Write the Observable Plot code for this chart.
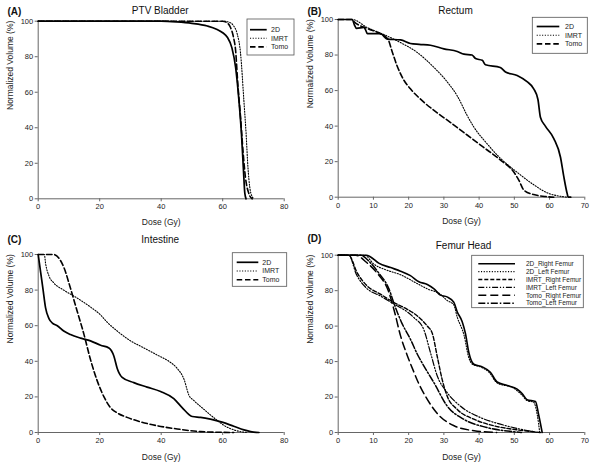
<!DOCTYPE html>
<html>
<head>
<meta charset="utf-8">
<script src="https://cdn.jsdelivr.net/npm/d3@7"></script>
<script src="https://cdn.jsdelivr.net/npm/@observablehq/plot@0.6"></script>
<style>
  html, body { margin: 0; padding: 0; background: #fff; }
  #wrap { position: relative; width: 600px; height: 464px; overflow: hidden; font-family: "Liberation Sans", Arial, sans-serif; }
  .cell { position: absolute; width: 300px; height: 232px; }
</style>
</head>
<body>
<div id="wrap">
  <div class="cell" id="pA" style="left:0;top:0"></div>
  <div class="cell" id="pB" style="left:300px;top:0"></div>
  <div class="cell" id="pC" style="left:0;top:232px"></div>
  <div class="cell" id="pD" style="left:300px;top:232px"></div>
</div>
<script>
// ---------- Panel A: PTV Bladder ----------
const doseA_2D   = [0,40,45,50,55,58,60,61.5,63,64.2,65.3,66.1,66.7,67.2,67.6];
const volA_2D    = [100,100,99.6,98.8,97.3,95.5,93.5,91,85,74,55,36.6,17.8,3,0];
const doseA_IMRT = [0,55,60,62,63.5,64.7,65.8,66.9,67.6,68.2,68.8,69.5,70.2];
const volA_IMRT  = [100,100,100,99.5,97.5,93,82,55,37,18,6.6,1.5,0];
const doseA_Tomo = [0,55,60,61.5,62.5,63.5,64.2,64.9,65.8,66.6,67.4,68.5,69.6];
const volA_Tomo  = [100,100,100,99,96.6,91,83.5,65,46,27,12,3,0];

// ---------- Panel B: Rectum ----------
const doseB_2D   = [0,4,4.6,5.2,7.3,7.8,8.3,12,13.9,17.7,20.5,23,26.2,30,33.8,35.7,38,39,40.9,41.8,46,47.5,50.8,53.6,55.5,56.7,57.4,58.8,61.2,63.1,64,65,65.3,66];
const volB_2D    = [100,100,97,95,95.5,94,92,92,89,88.5,86.5,86,85.5,83.5,82,80.5,80,78,77,74.5,73,70.5,68.5,65,61,55,45,40,33,22.5,12,2,0,0];
const doseB_IMRT = [0,4,8.2,13,17.7,22.4,27.2,30.9,33.8,36.6,38.5,42.3,46,50.8,55.5,59.3,63.1,65];
const volB_IMRT  = [100,100,95.5,91.5,87,81.5,73,65,57,46,39.5,30,22,14,7,2.5,0.5,0];
const doseB_Tomo = [0,4,4.4,8.2,12,14.1,15.3,16.7,18.6,20.5,24.3,28.1,31.9,36.6,41.3,46,49.9,51.3,52.7,55.5,59.3,61.2];
const volB_Tomo  = [100,100,99,95,92,89,82,74,66,61,53.5,47.5,42,35,28,21,14,9.5,4,1.5,0.3,0];

// ---------- Panel C: Intestine ----------
const doseC_2D   = [0,0.8,1.6,2.4,3.5,4.6,6.2,8.3,10.5,13.8,17,20.3,23,24.6,25.7,27.3,31.1,35.4,39.8,44.1,46.8,50.1,52.8,56,59.8,63.6,66.9,70.1,71.8];
const volC_2D    = [100,90,80,70,64,61.5,60,57,55,53,51.5,49,47.5,43,36,31,28,25.5,23,19,14,9,8.5,7.5,5.8,3.5,1.5,0.2,0];
const doseC_IMRT = [0,2,2.4,3.5,5.1,8.3,12.7,17,20.3,22.4,25.7,30,34.4,38.7,42.5,45.2,47.4,49,50.6,53.9,57.7,60.4,63.6,66.9,68];
const volC_IMRT  = [100,100,95,88,84,80,75.5,70.5,66,62,57,51.5,47.5,43.5,40,36,30,21,18,13,7.5,4,1.5,0.2,0];
const doseC_Tomo = [0,5,6.7,8.3,10.5,12.7,14.9,17,19.2,21.4,23.5,25.7,28.9,33.3,38.7,45.2,52.8,63.6];
const volC_Tomo  = [100,100,98,93,81,68,55,41,29,20,14,11,8.5,6,3.8,2,0.5,0];

// ---------- Panel D: Femur Head ----------
const doseD_2DR   = [0,8,9.2,11.5,14.9,17.7,20.5,22.9,25.3,27.2,29,30.9,32.8,33.8,35.2,36.1,37.1,38.5,40.9,43.2,45.1,48,50.8,52.2,53.6,56,56.9,57.9];
const volD_2DR    = [100,100,99,95.5,93,91,88.5,85,83.5,81,77.5,76.5,73.5,68,62.5,56,45,38.5,37,34,28.5,26.5,24.5,22,18.5,17.5,10,0];
const doseD_2DL   = [0,7.5,10.1,13.9,17.7,21.5,25.3,29,30.9,32.8,33.8,35.7,37.1,38.1,40.4,42.8,45.1,49.8,52.2,53.6,55.5,56.5,57.2];
const volD_2DL    = [100,100,95,91.5,89,85,81,78,74.5,72,65,55,42,38.5,37,34,28,25,21,18,17,10,0];
const doseD_IMRTR = [0,3,5.4,8.2,12,15.8,19.6,22.4,25.3,26.7,28.1,29.5,30.9,33.8,38.5,44.2,50.8,55.5,57.4];
const volD_IMRTR  = [100,100,90,82.7,78,73.3,69.5,65.8,60,56,43,30,20.7,13,7.5,3.8,1.5,0.4,0];
const doseD_IMRTL = [0,3,5.2,8,12,15.8,19.6,21.5,24.3,26.2,28.1,30.9,34.6,40.3,46,51.7,55.5,56.5];
const volD_IMRTL  = [100,100,89,81.5,77,72.5,68,64.8,58,45,32,22.6,15,8.5,4.7,1.9,0.4,0];
const doseD_TomoR = [0,5,8,11,14.4,16,17.7,19.5,21.5,23,24.9,28.2,32.9,38.6,45];
const volD_TomoR  = [100,100,96,90,79,68,54.5,44,34,27,20,10.5,3.8,1,0];
const doseD_TomoL = [0,6.3,9,11.5,14.4,15.8,18,20.5,22.5,24.3,27.2,30.9,35.6,42.2,49.9,52];
const volD_TomoL  = [100,100,96,90,81,73,62,52.6,44,37.6,28,15,7.5,2.8,0.4,0];

// ---------- labels ----------
const titles = ["PTV Bladder", "Rectum", "Intestine", "Femur Head"];
const panelTags = ["(A)", "(B)", "(C)", "(D)"];
const seriesABC = ["2D", "IMRT", "Tomo"];
const seriesD = ["2D_Right Femur", "2D_Left Femur", "IMRT_Right Femur", "IMRT_Left Femur", "Tomo_Right Femur", "Tomo_Left Femur"];
const ticks80 = [0, 20, 40, 60, 80];
const ticks70 = [0, 10, 20, 30, 40, 50, 60, 70];
const ticksY = [0, 20, 40, 60, 80, 100];
const xLabel = "Dose (Gy)";
const yLabel = "Normalized Volume (%)";

// styles
const styleABC = [
  {dash: null, width: 1.7},
  {dash: "1.1,1.6", width: 1.1},
  {dash: "5.5,2.8", width: 1.6}
];
const styleD = [
  {dash: null, width: 1.6},
  {dash: "1.1,1.6", width: 1.1},
  {dash: "4,2", width: 1.4},
  {dash: "6,1.8,1.2,1.8,1.2,1.8", width: 1.2},
  {dash: "8,4", width: 1.5},
  {dash: "7,2,1.5,2", width: 1.5}
];

function rows(names, doses, vols) {
  const out = [];
  names.forEach((n, i) => doses[i].forEach((d, j) => out.push({s: n, i, dose: d, vol: vols[i][j]})));
  return out;
}

function panel(el, cfg) {
  const {data, names, styles, xmax, xticks, m, title, tag, titleDx, legend} = cfg;
  const lines = names.map((n, i) => Plot.line(data.filter(r => r.s === n), {
    x: "dose", y: "vol", stroke: "#000", strokeWidth: styles[i].width,
    strokeDasharray: styles[i].dash || undefined, curve: "monotone-x"
  }));
  const chart = Plot.plot({
    width: 300, height: 232,
    marginLeft: m.l, marginRight: m.r, marginTop: m.t, marginBottom: m.b,
    style: {fontFamily: "'Liberation Sans', Arial, sans-serif", fontSize: "7.5px", color: "#222", background: "#fff"},
    x: {domain: [0, xmax]},
    y: {domain: [0, 100]},
    marks: [
      Plot.axisX({ticks: xticks, tickSize: 3, tickPadding: 2, label: null, stroke: "#666", tickFormat: d => d}),
      Plot.axisY({ticks: ticksY, tickSize: 3, tickPadding: 2, label: null, stroke: "#666", tickFormat: d => d}),
      Plot.ruleY([0], {stroke: "#666", strokeWidth: 1}),
      Plot.ruleX([0], {stroke: "#666", strokeWidth: 1}),
      ...lines,
      Plot.text([xLabel], {frameAnchor: "bottom", lineAnchor: "middle", dy: m.xl, fontSize: 8.5, fill: "#222"}),
      Plot.text([yLabel], {frameAnchor: "left", lineAnchor: "middle", dx: m.yl, rotate: -90, fontSize: 8.5, fill: "#222"}),
      Plot.text([title], {frameAnchor: "top", lineAnchor: "middle", dy: m.tt, dx: titleDx, fontSize: 10, fill: "#111"}),
      Plot.text([tag], {frameAnchor: "top-left", lineAnchor: "middle", dx: 7 - m.l, dy: m.tg, fontSize: 10, fontWeight: "bold", fill: "#111", textAnchor: "start"})
    ]
  });
  // legend box
  const svg = d3.select(chart);
  const g = svg.append("g").attr("text-anchor", "start");
  g.append("rect").attr("x", legend.x).attr("y", legend.y).attr("width", legend.w).attr("height", legend.h)
    .attr("fill", "#fff").attr("stroke", "#555").attr("stroke-width", 0.8);
  names.forEach((n, i) => {
    const yy = legend.row0 + i * legend.step;
    g.append("line").attr("x1", legend.lx0).attr("x2", legend.lx1).attr("y1", yy).attr("y2", yy)
      .attr("stroke", "#000").attr("stroke-width", styles[i].width)
      .attr("stroke-dasharray", styles[i].dash);
    g.append("text").attr("x", legend.tx).attr("y", yy).attr("dy", "0.35em")
      .attr("text-anchor", "start")
      .attr("font-size", legend.fs).attr("fill", "#222")
      .attr("font-family", "'Liberation Sans', Arial, sans-serif").text(n);
  });
  document.getElementById(el).appendChild(chart);
}

panel("pA", {
  data: rows(seriesABC, [doseA_2D, doseA_IMRT, doseA_Tomo], [volA_2D, volA_IMRT, volA_Tomo]),
  names: seriesABC, styles: styleABC, xmax: 80, xticks: ticks80,
  m: {l: 37.7, r: 16.3, t: 20.7, b: 33.7, xl: 23.8, yl: -27.7, tt: -10.7, tg: -9.5},
  title: titles[0], tag: panelTags[0], titleDx: -1,
  legend: {x: 247, y: 19, w: 47, h: 36, row0: 29.7, step: 8.6, lx0: 250, lx1: 266.7, tx: 271, fs: 7}
});
panel("pB", {
  data: rows(seriesABC, [doseB_2D, doseB_IMRT, doseB_Tomo], [volB_2D, volB_IMRT, volB_Tomo]),
  names: seriesABC, styles: styleABC, xmax: 70, xticks: ticks70,
  m: {l: 37.7, r: 15.7, t: 19, b: 35.3, xl: 24.3, yl: -27.7, tt: -9, tg: -8},
  title: titles[1], tag: panelTags[1], titleDx: -6,
  legend: {x: 232.3, y: 17.3, w: 55, h: 36, row0: 26.5, step: 8.7, lx0: 236.7, lx1: 259.3, tx: 265, fs: 7}
});
panel("pC", {
  data: rows(seriesABC, [doseC_2D, doseC_IMRT, doseC_Tomo], [volC_2D, volC_IMRT, volC_Tomo]),
  names: seriesABC, styles: styleABC, xmax: 80, xticks: ticks80,
  m: {l: 37.7, r: 16.3, t: 22, b: 32, xl: 24.5, yl: -27.7, tt: -15, tg: -15},
  title: titles[2], tag: panelTags[2], titleDx: -1,
  legend: {x: 232.3, y: 20.7, w: 54.4, h: 33.6, row0: 30.3, step: 8.7, lx0: 236.7, lx1: 258.3, tx: 262.3, fs: 7}
});
panel("pD", {
  data: rows(seriesD, [doseD_2DR, doseD_2DL, doseD_IMRTR, doseD_IMRTL, doseD_TomoR, doseD_TomoL],
             [volD_2DR, volD_2DL, volD_IMRTR, volD_IMRTL, volD_TomoR, volD_TomoL]),
  names: seriesD, styles: styleD, xmax: 70, xticks: ticks70,
  m: {l: 37.7, r: 15.7, t: 22.7, b: 32, xl: 24.5, yl: -27.7, tt: -9.5, tg: -16},
  title: titles[3], tag: panelTags[3], titleDx: 2,
  legend: {x: 171.7, y: 23.3, w: 111.6, h: 52.4, row0: 31.7, step: 7.9, lx0: 178.3, lx1: 215, tx: 226, fs: 6.5}
});
</script>
</body>
</html>
